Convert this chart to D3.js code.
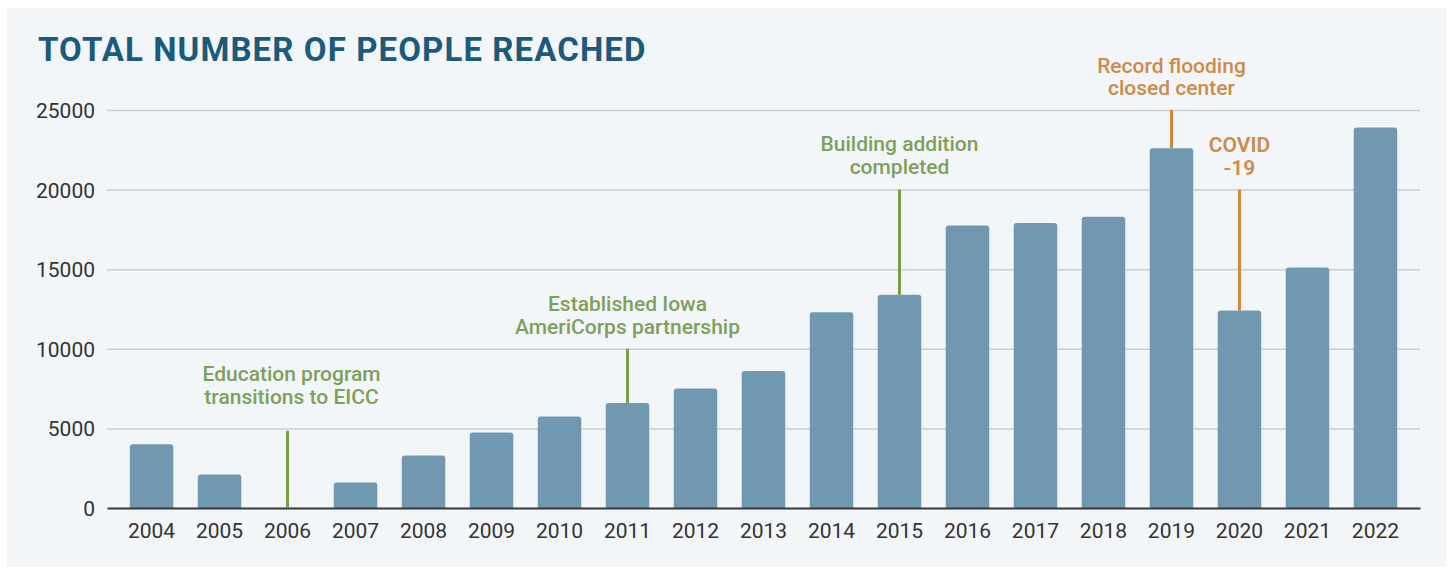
<!DOCTYPE html>
<html>
<head>
<meta charset="utf-8">
<script src="https://cdn.jsdelivr.net/npm/d3@7"></script>
<style>
  body { margin: 0; background: #fff; }
  text { font-family: Roboto, "Noto Sans", sans-serif; }
  .title { font-size: 33px; font-weight: 700; fill: #1c5a7b; letter-spacing: 1.1px; }
  .axis text { font-size: 21px; fill: #333; }
  .note { font-size: 21px; font-weight: 500; }
</style>
</head>
<body>
<div id="chart"></div>
<script>
// data
var years = ["2004","2005","2006","2007","2008","2009","2010","2011","2012","2013",
             "2014","2015","2016","2017","2018","2019","2020","2021","2022"];
var reached = [4000, 2100, 0, 1600, 3300, 4750, 5750, 6600, 7500, 8600,
               12300, 13400, 17750, 17900, 18300, 22600, 12400, 15100, 23900];
var yTicks = [0, 5000, 10000, 15000, 20000, 25000];

// milestone notes: year, line from value, line to value, text lines
var noteYears = ["2006", "2011", "2015", "2019", "2020"];
var noteFrom = [0, 6600, 13400, 22600, 12400];
var noteTo = [4850, 10000, 20000, 25000, 20000];
var noteText = [["Education program", "transitions to EICC"],
                ["Established Iowa", "AmeriCorps partnership"],
                ["Building addition", "completed"],
                ["Record flooding", "closed center"],
                ["COVID", "-19"]];
var noteKind = ["green", "green", "green", "orange", "orange"];

var margin = {top: 110, right: 28, bottom: 61, left: 107};
var W = 1448, H = 569;
var width = W - margin.left - margin.right;
var height = H - margin.top - margin.bottom;

var colors = {green: "#78a046", orange: "#d4873c"};
var textColors = {green: "#7ea05a", orange: "#d08a48"};

var svg = d3.select("#chart")
  .append("svg")
  .attr("width", W)
  .attr("height", H);

// panel background
svg.append("rect")
  .attr("x", 7).attr("y", 8)
  .attr("width", W - 9).attr("height", H - 10)
  .attr("fill", "#f2f6f9");

svg.append("text")
  .attr("class", "title")
  .attr("x", 38)
  .attr("y", 61)
  .text("TOTAL NUMBER OF PEOPLE REACHED");

var x = d3.scaleBand()
  .domain(years)
  .range([0, width])
  .paddingInner(0.36)
  .paddingOuter(0.335);

var y = d3.scaleLinear()
  .domain([0, 25000])
  .range([height, 0]);

var g = svg.append("g")
  .attr("transform", "translate(" + margin.left + "," + margin.top + ")");

// grid + y labels
var yAxis = g.append("g")
  .attr("class", "axis y")
  .call(d3.axisLeft(y).tickValues(yTicks).tickSize(-width).tickPadding(12).tickFormat(d3.format("d")));
yAxis.select(".domain").remove();
yAxis.selectAll(".tick line")
  .attr("stroke", "#c9ced3")
  .attr("stroke-width", 1.5);
yAxis.selectAll(".tick text").attr("dy", "0.36em");

// bars with rounded top corners
var r = 3;
g.selectAll(".bar")
  .data(years.map(function(d, i) { return {year: d, value: reached[i]}; }).filter(function(d) { return d.value > 0; }))
  .enter()
  .append("path")
  .attr("class", "bar")
  .attr("fill", "#7099b1")
  .attr("d", function(d) {
    var x0 = x(d.year), x1 = x0 + x.bandwidth();
    var y0 = y(d.value), y1 = y(0);
    return "M" + x0 + "," + y1 + "V" + (y0 + r) +
      "Q" + x0 + "," + y0 + " " + (x0 + r) + "," + y0 +
      "H" + (x1 - r) + "Q" + x1 + "," + y0 + " " + x1 + "," + (y0 + r) +
      "V" + y1 + "Z";
  });

// baseline + x labels
var xAxis = g.append("g")
  .attr("class", "axis x")
  .attr("transform", "translate(0," + height + ")")
  .call(d3.axisBottom(x).tickSize(0).tickPadding(15));
xAxis.select(".domain")
  .attr("stroke", "#3a3a3a")
  .attr("stroke-width", 2);
xAxis.selectAll(".tick text").attr("dy", "0.71em");

// milestone notes
var noteShift = [4, 0, 0, 0, 0];
var noteGap = [27, 15, 16, 15, 15];
var notes = g.selectAll(".note")
  .data(noteYears)
  .enter()
  .append("g")
  .attr("class", "note");

notes.append("line")
  .attr("x1", function(d) { return x(d) + x.bandwidth() / 2; })
  .attr("x2", function(d) { return x(d) + x.bandwidth() / 2; })
  .attr("y1", function(d, i) { return y(noteFrom[i]); })
  .attr("y2", function(d, i) { return y(noteTo[i]); })
  .attr("stroke", function(d, i) { return colors[noteKind[i]]; })
  .attr("stroke-width", 3);

notes.append("text")
  .attr("text-anchor", "middle")
  .attr("fill", function(d, i) { return textColors[noteKind[i]]; })
  .attr("font-weight", function(d, i) { return i == 4 ? 600 : 500; })
  .each(function(d, i) {
    var cx = x(d) + x.bandwidth() / 2 + noteShift[i];
    var base = y(noteTo[i]) - noteGap[i];
    var lines = noteText[i];
    d3.select(this).selectAll("tspan")
      .data(lines)
      .enter()
      .append("tspan")
      .attr("x", cx)
      .attr("y", function(t, k) { return base - (lines.length - 1 - k) * 22.5; })
      .text(function(t) { return t; });
  });
</script>
</body>
</html>
